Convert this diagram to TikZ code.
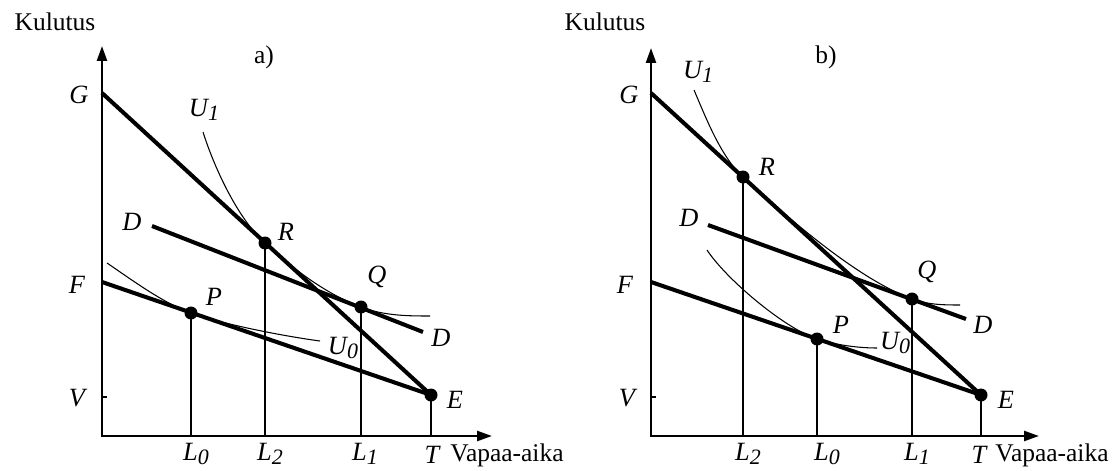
\documentclass[tikz,border=0pt]{standalone}
\usepackage{fontspec}
\setmainfont{Liberation Serif}
\usetikzlibrary{arrows.meta}
\newcommand{\lsub}[2]{\textit{#1\raisebox{-0.3ex}{\fontsize{12.5}{13}\selectfont #2}}}

\begin{document}
\begin{tikzpicture}[x={(0.02cm,0)}, y={(0,-0.02cm)}, every node/.style={font=\fontsize{15}{18}\selectfont\itshape}, >={Triangle[length=0.3cm,width=0.2cm]},
	axlab/.style={font=\fontsize{14.5}{17}\selectfont\upshape},
	axis/.style={line width=1.4pt},
	budget/.style={line width=2.3pt},
	drop/.style={line width=1pt},
	icurve/.style={line width=0.6pt},
	dot/.style={circle, fill, inner sep=0pt, minimum size=0.26cm}]
	\useasboundingbox (0,0) rectangle (1112,470);

	% panel a)
	\coordinate (aO) at (102,436);
	\coordinate (aY) at (102,46);
	\coordinate (aX) at (492,436);
	\coordinate (aG) at (102,93);
	\coordinate (aF) at (102,282);
	\coordinate (aV) at (102,397);
	\coordinate (aD1) at (152,226);
	\coordinate (aD2) at (423,332);
	\coordinate (aL0) at (191,436);
	\coordinate (aL2) at (265,436);
	\coordinate (aL1) at (361,436);
	\coordinate (aT) at (431,436);
	\node[dot] (aE) at (431,395) {};
	\node[dot] (aR) at (265,243) {};
	\node[dot] (aP) at (191,313) {};
	\node[dot] (aQ) at (361,307) {};
	\draw[axis,<->] (aY) -- (aO) -- (aX);
	\draw[axis] (aV) -- ++(5,0);
	\draw[budget] (aG) -- (aE.center);
	\draw[budget] (aF) -- (aE.center);
	\draw[budget] (aD1) -- (aD2);
	\draw[drop] (aP.center) -- (aL0);
	\draw[drop] (aR.center) -- (aL2);
	\draw[drop] (aQ.center) -- (aL1);
	\draw[drop] (aE.center) -- (aT);
	\draw[icurve] (203,132) .. controls (215,170) and (239,220) .. (aR.center) .. controls (293,269) and (326,294) .. (aQ.center) .. controls (384,316) and (410,316) .. (430,316);
	\draw[icurve] (107,263) .. controls (132,280) and (163,303) .. (aP.center) .. controls (229,326) and (290,337) .. (320,341);
	\node[axlab] (aKul) at (55,22) {Kulutus};
	\node[axlab] (aVap) at (507,455) {Vapaa-aika};
	\node[axlab] (aTit) at (264,57) {a)};
	\node (aGlab) at (79,95) {G};
	\node (aFlab) at (77,285) {F};
	\node (aVlab) at (77,398) {V};
	\node (aElab) at (455,400) {E};
	\node (aRlab) at (286,232) {R};
	\node (aQlab) at (377,277) {Q};
	\node (aPlab) at (214,297) {P};
	\node (aDlab1) at (132,222) {D};
	\node (aDlab2) at (441,338) {D};
	\node (aU1lab) at (204,110) {\lsub{U}{1}};
	\node (aU0lab) at (343,348) {\lsub{U}{0}};
	\node (aL0lab) at (196,454) {\lsub{L}{0}};
	\node (aL2lab) at (270,454) {\lsub{L}{2}};
	\node (aL1lab) at (365,454) {\lsub{L}{1}};
	\node (aTlab) at (432,455) {T};

	% panel b)
	\coordinate (bO) at (651,436);
	\coordinate (bY) at (651,48);
	\coordinate (bX) at (1039,436);
	\coordinate (bG) at (651,93);
	\coordinate (bF) at (651,282);
	\coordinate (bV) at (651,397);
	\coordinate (bD1) at (708,225);
	\coordinate (bD2) at (966,319);
	\coordinate (bL2) at (743,436);
	\coordinate (bL0) at (817,436);
	\coordinate (bL1) at (912,436);
	\coordinate (bT) at (981,436);
	\node[dot] (bE) at (981,395) {};
	\node[dot] (bR) at (743,177) {};
	\node[dot] (bP) at (817,339) {};
	\node[dot] (bQ) at (912,299) {};
	\draw[axis,<->] (bY) -- (bO) -- (bX);
	\draw[axis] (bV) -- ++(5,0);
	\draw[budget] (bG) -- (bE.center);
	\draw[budget] (bF) -- (bE.center);
	\draw[budget] (bD1) -- (bD2);
	\draw[drop] (bR.center) -- (bL2);
	\draw[drop] (bP.center) -- (bL0);
	\draw[drop] (bQ.center) -- (bL1);
	\draw[drop] (bE.center) -- (bT);
	\draw[icurve] (694,90) .. controls (706,118) and (721,157) .. (bR.center) .. controls (787,217) and (856,278) .. (bQ.center) .. controls (929,305) and (945,305) .. (960,305);
	\draw[icurve] (707,250) .. controls (726,279) and (784,328) .. (bP.center) .. controls (836,345) and (858,348) .. (877,348);
	\node[axlab] (bKul) at (605,22) {Kulutus};
	\node[axlab] (bVap) at (1052,455) {Vapaa-aika};
	\node[axlab] (bTit) at (826,57) {b)};
	\node (bGlab) at (629,95) {G};
	\node (bFlab) at (625,285) {F};
	\node (bVlab) at (627,398) {V};
	\node (bElab) at (1006,400) {E};
	\node (bRlab) at (767,167) {R};
	\node (bQlab) at (927,272) {Q};
	\node (bPlab) at (841,325) {P};
	\node (bDlab1) at (689,218) {D};
	\node (bDlab2) at (983,325) {D};
	\node (bU1lab) at (698,72) {\lsub{U}{1}};
	\node (bU0lab) at (895,343) {\lsub{U}{0}};
	\node (bL2lab) at (748,454) {\lsub{L}{2}};
	\node (bL0lab) at (827,454) {\lsub{L}{0}};
	\node (bL1lab) at (917,454) {\lsub{L}{1}};
	\node (bTlab) at (979,455) {T};
\end{tikzpicture}
\end{document}
